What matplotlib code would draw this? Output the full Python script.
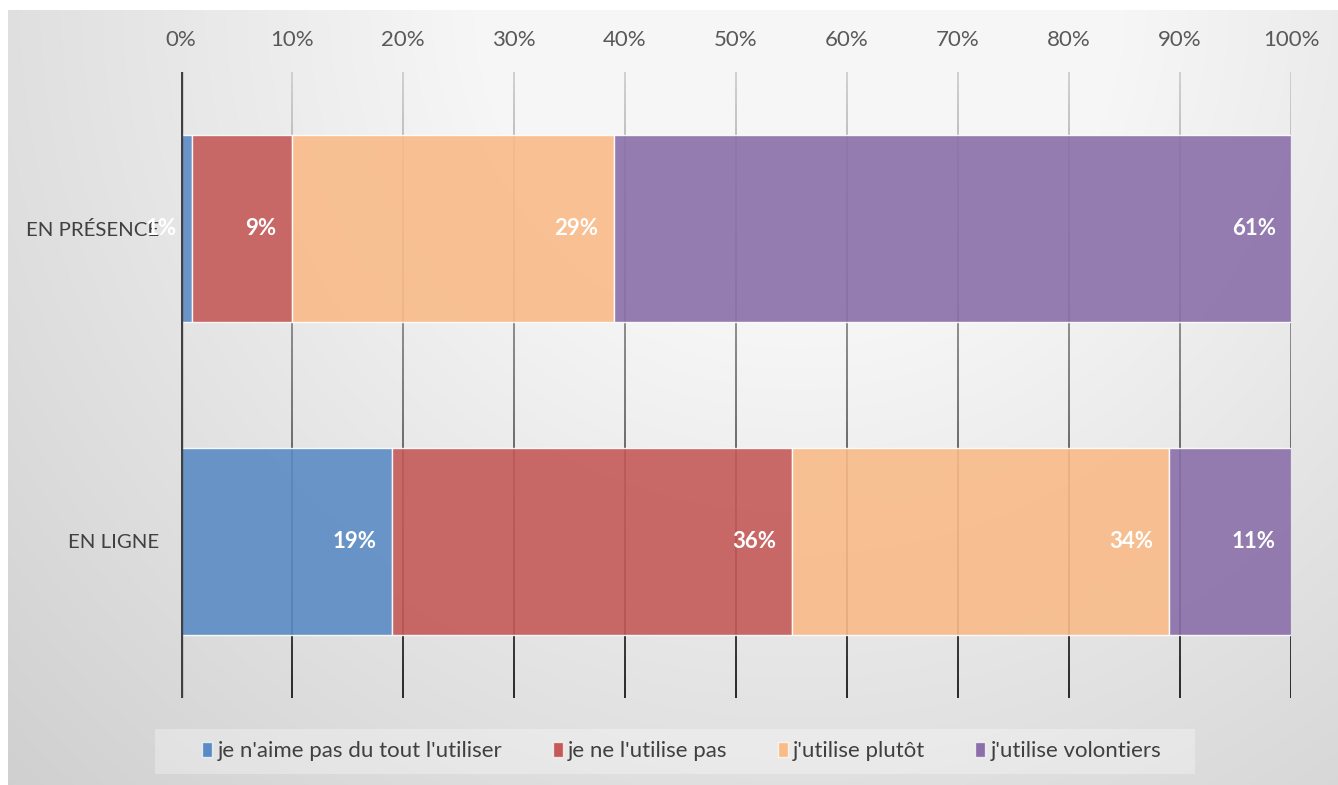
import numpy as np
import matplotlib
matplotlib.use("Agg")
import matplotlib.pyplot as plt
from matplotlib.collections import LineCollection
from matplotlib.patches import Rectangle

plt.rcParams["font.family"] = ["Lato", "DejaVu Sans"]

# survey answers, share of respondents (%)
categories = ["EN LIGNE", "EN PRÉSENCE"]
series_names = ["je n'aime pas du tout l'utiliser", "je ne l'utilise pas",
                "j'utilise plutôt", "j'utilise volontiers"]
en_ligne = [19, 36, 34, 11]
en_presence = [1, 9, 29, 61]
colors = ["#5b8bc4", "#c45a58", "#f9bb88", "#8a6faa"]
ticks = list(range(0, 101, 10))

W, H = 1338, 785
fig = plt.figure(figsize=(W / 100, H / 100), dpi=100)
fig.patch.set_facecolor("white")

# soft grey gradient behind the whole chart
bg = fig.add_axes([8 / W, 0, 1 - 8 / W, 1 - 10 / H])
xx, yy = np.meshgrid(np.linspace(8, W, 300), np.linspace(10, H, 200))
dist = np.hypot(xx - 800, yy)
shade = np.clip(1.027 - 1.9e-4 * dist, 0.78, 0.965)
bg.imshow(np.dstack([shade] * 3), aspect="auto", interpolation="bilinear",
          extent=[0, 1, 0, 1], origin="upper")
bg.set_axis_off()

ax = fig.add_axes([181 / W, 1 - 698 / H, 1110 / W, 626 / H])
ax.set_facecolor("none")
ax.set_xlim(0, 100)
ax.set_ylim(-0.5, 1.5)

# vertical gridlines fading from light grey at top to near black at bottom
ys = np.linspace(1.5, -0.5, 60)
for t in ticks[1:]:
    segs = [[(t, ys[i]), (t, ys[i + 1])] for i in range(len(ys) - 1)]
    g = np.linspace(0.80, 0.10, len(segs))
    lc = LineCollection(segs, colors=[(v, v, v) for v in g], linewidths=1.3, zorder=1)
    ax.add_collection(lc)

rows = [en_ligne, en_presence]
for yi, vals in enumerate(rows):
    left = 0
    for v, c in zip(vals, colors):
        ax.barh(yi, v, left=left, height=0.6, color=c, alpha=0.9,
                edgecolor=(1, 1, 1, 0.6), linewidth=1, zorder=2)
        ax.annotate(f"{v}%", xy=(left + v, yi), xytext=(-11, 0),
                    textcoords="offset points", ha="right", va="center",
                    color="white", fontsize=16, fontweight="bold", zorder=4)
        left += v

ax.axvline(0, color="#404040", linewidth=2.4, zorder=3)

ax.xaxis.tick_top()
ax.set_xticks(ticks)
ax.set_xticklabels([f"{t}%" for t in ticks])
ax.set_yticks([0, 1])
ax.set_yticklabels(categories)
ax.tick_params(axis="x", length=0, pad=16, labelsize=16, labelcolor="#595959")
ax.tick_params(axis="y", length=0, pad=16, labelsize=14.7, labelcolor="#404040")
for s in ax.spines.values():
    s.set_visible(False)

# legend panel
fig.patches.append(Rectangle((155 / W, 1 - 774 / H), 1040 / W, 45 / H,
                             transform=fig.transFigure, facecolor="white",
                             alpha=0.3, edgecolor="none", zorder=1))
handles = [Rectangle((0, 0), 1, 1, facecolor=c, edgecolor=(1, 1, 1, 0.7), linewidth=1)
           for c in colors]
fig.legend(handles, series_names, loc="center", bbox_to_anchor=(682 / W, 1 - 751 / H),
           ncol=4, frameon=False, fontsize=16, labelcolor="#404040",
           handlelength=0.45, handleheight=0.65, handletextpad=0.25,
           columnspacing=2.25)

fig.savefig("out.png", dpi=100)
